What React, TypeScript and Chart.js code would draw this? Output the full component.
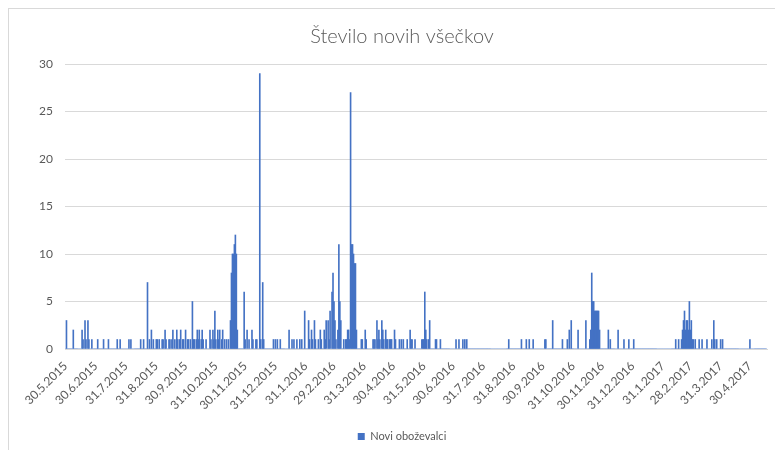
import React, { useEffect, useRef } from "react";
import { Chart, registerables } from "chart.js";

Chart.register(...registerables);

const TITLE = "Število novih všečkov";
const SERIES_NAME = "Novi oboževalci";

// Daily values, one array per month (first day of each array given in MONTHS)
const may2015 = [0, 3];
const jun2015 = [0,0,0,0,0,0,2,0,0,0, 0,0,0,0,0,2,1,0,3,1, 0,3,1,0,0,1,0,0,0,0];
const jul2015 = [0,1,0,0,0,0,0,1,0,0, 0,0,1,0,0,0,0,0,0,0, 0,1,0,0,1,0,0,0,0,0, 0];
const aug2015 = [0,0,1,0,1,0,0,0,0,0, 0,0,0,0,1,0,0,1,0,0, 0,7,0,1,0,2,0,1,0,0, 1];
const sep2015 = [1,0,1,0,0,1,1,0,2,1, 0,0,1,1,0,1,2,0,1,0, 2,1,0,1,2,0,1,1,0,2];
const oct2015 = [0,1,1,0,1,0,5,1,1,0, 1,2,1,2,0,1,2,1,0,0, 1,0,0,0,2,1,0,2,1,4, 1];
const nov2015 = [0,2,1,2,0,1,2,0,1,0, 1,0,1,0,3,8,10,10,11,12, 10,2,0,0,0,0,0,0,6,1];
const dec2015 = [0,2,0,1,0,0,2,1,0,0, 1,1,0,0,29,1,0,7,1,0, 0,0,0,0,0,0,0,0,1,0, 1];
const jan2016 = [0,1,0,0,1,0,0,0,0,0, 0,0,0,2,0,0,1,0,1,0, 0,1,0,0,1,0,1,0,0,4, 0];
const feb2016 = [0,0,3,1,0,2,1,0,3,1, 0,0,1,0,2,1,0,0,2,1, 3,0,3,1,4,0,6,8,5];
const mar2016 = [3,1,0,2,11,5,3,0,0,1, 0,1,1,2,2,1,27,11,11,10, 9,9,2,0,0,0,0,1,1,0, 0];
const apr2016 = [2,1,0,0,0,0,0,0,1,1, 1,0,3,1,2,1,0,3,2,1, 0,2,1,1,0,1,1,1,0,0];
const may2016 = [2,1,0,0,0,1,0,1,0,1, 0,0,0,1,0,0,2,1,1,0, 0,1,0,0,0,0,0,0,1,1, 1];
const jun2016 = [6,2,1,0,1,3,0,0,0,0, 0,1,1,0,0,0,1,0,0,0, 0,0,0,0,0,0,0,0,0,0];
const jul2016 = [0,0,1,0,0,1,0,0,0,1, 0,1,0,1,0,0,0,0,0,0, 0,0,0,0,0,0,0,0,0,0, 0];
const aug2016 = [0,0,0,0,0,0,0,0,0,0, 0,0,0,0,0,0,0,0,0,0, 0,0,0,0,0,1,0,0,0,0, 0];
const sep2016 = [0,0,0,0,0,0,0,1,0,0, 0,0,1,0,0,1,0,0,0,1, 0,0,0,0,0,0,0,0,0,0];
const oct2016 = [0,1,1,0,0,0,0,0,0,3, 0,0,0,0,0,0,0,0,0,1, 0,0,0,0,1,0,2,0,3,0, 0];
const nov2016 = [0,0,0,0,2,0,0,0,0,0, 0,0,3,0,0,0,1,2,8,5, 5,4,4,4,4,4,2,0,0,0];
const dec2016 = [0,0,0,0,0,2,0,1,0,0, 0,0,0,0,0,2,0,0,0,0, 0,1,0,0,0,0,1,0,0,0, 0];
const jan2017 = [1,0,0,0,0,0,0,0,0,0, 0,0,0,0,0,0,0,0,0,0, 0,0,0,0,0,0,0,0,0,0, 0];
const feb2017 = [0,0,0,0,0,0,0,0,0,0, 0,0,1,0,0,1,0,0,1,2, 3,4,2,3,3,2,5,2];
const mar2017 = [3,1,1,0,1,0,0,0,1,0, 0,1,0,0,0,0,1,0,0,0, 0,1,0,3,1,0,1,0,0,0, 1];
const apr2017 = [0,1,0,0,0,0,0,0,0,0, 0,0,0,0,0,0,0,0,0,0, 0,0,0,0,0,0,0,0,0,1];
const may2017 = [0,0,0,0,0,0,0,0,0,0, 0,0,0,0,0,0,0];

const MONTHS: { y: number; m: number; from: number; v: number[] }[] = [
  { y: 2015, m: 5, from: 30, v: may2015 },
  { y: 2015, m: 6, from: 1, v: jun2015 },
  { y: 2015, m: 7, from: 1, v: jul2015 },
  { y: 2015, m: 8, from: 1, v: aug2015 },
  { y: 2015, m: 9, from: 1, v: sep2015 },
  { y: 2015, m: 10, from: 1, v: oct2015 },
  { y: 2015, m: 11, from: 1, v: nov2015 },
  { y: 2015, m: 12, from: 1, v: dec2015 },
  { y: 2016, m: 1, from: 1, v: jan2016 },
  { y: 2016, m: 2, from: 1, v: feb2016 },
  { y: 2016, m: 3, from: 1, v: mar2016 },
  { y: 2016, m: 4, from: 1, v: apr2016 },
  { y: 2016, m: 5, from: 1, v: may2016 },
  { y: 2016, m: 6, from: 1, v: jun2016 },
  { y: 2016, m: 7, from: 1, v: jul2016 },
  { y: 2016, m: 8, from: 1, v: aug2016 },
  { y: 2016, m: 9, from: 1, v: sep2016 },
  { y: 2016, m: 10, from: 1, v: oct2016 },
  { y: 2016, m: 11, from: 1, v: nov2016 },
  { y: 2016, m: 12, from: 1, v: dec2016 },
  { y: 2017, m: 1, from: 1, v: jan2017 },
  { y: 2017, m: 2, from: 1, v: feb2017 },
  { y: 2017, m: 3, from: 1, v: mar2017 },
  { y: 2017, m: 4, from: 1, v: apr2017 },
  { y: 2017, m: 5, from: 1, v: may2017 },
];

const TICK_LABELS = [
  "30.5.2015", "30.6.2015", "31.7.2015", "31.8.2015", "30.9.2015", "31.10.2015",
  "30.11.2015", "31.12.2015", "31.1.2016", "29.2.2016", "31.3.2016", "30.4.2016",
  "31.5.2016", "30.6.2016", "31.7.2016", "31.8.2016", "30.9.2016", "31.10.2016",
  "30.11.2016", "31.12.2016", "31.1.2017", "28.2.2017", "31.3.2017", "30.4.2017",
];

const Y_MIN = 0;
const Y_MAX = 30;
const Y_STEP = 5;

const FONT = "Lato, 'Open Sans', sans-serif";
const TEXT = "#595959";
const GRID = "#d9d9d9";
const BAR = "#4472C4";

export default function App() {
  const ref = useRef<HTMLCanvasElement>(null);

  useEffect(() => {
    const labels: string[] = [];
    const values: number[] = [];
    MONTHS.forEach(({ y, m, from, v }) => {
      v.forEach((val, i) => {
        labels.push(`${from + i}.${m}.${y}`);
        values.push(val);
      });
    });
    const tickSet = new Set(TICK_LABELS);

    const chart = new Chart(ref.current!, {
      type: "bar",
      data: {
        labels,
        datasets: [
          {
            label: SERIES_NAME,
            data: values,
            backgroundColor: BAR,
            borderWidth: 0,
            barPercentage: 1,
            categoryPercentage: 1,
          },
        ],
      },
      options: {
        responsive: false,
        animation: false,
        devicePixelRatio: 1,
        layout: { padding: 0 },
        plugins: {
          title: {
            display: true,
            text: TITLE,
            color: TEXT,
            font: { family: FONT, size: 20, weight: "300" as any },
            padding: { top: 16, bottom: 15 },
          },
          legend: {
            position: "bottom",
            labels: {
              boxWidth: 7,
              boxHeight: 7,
              color: TEXT,
              font: { family: FONT, size: 11 },
              padding: 10,
            },
          },
          tooltip: { enabled: false },
        },
        scales: {
          x: {
            grid: { display: false },
            border: { color: GRID },
            afterFit: (s: any) => {
              s.height = 72;
            },
            ticks: {
              autoSkip: false,
              maxRotation: 45,
              minRotation: 45,
              color: TEXT,
              padding: 2,
              font: { family: FONT, size: 12 },
              callback: function (this: any, value: any) {
                const l = this.getLabelForValue(value);
                return tickSet.has(l) ? l : null;
              },
            },
          },
          y: {
            min: Y_MIN,
            max: Y_MAX,
            afterFit: (s: any) => {
              s.width = 56;
            },
            border: { display: false },
            grid: { color: GRID, drawTicks: false },
            ticks: {
              stepSize: Y_STEP,
              color: TEXT,
              padding: 12,
              font: { family: FONT, size: 12 },
            },
          },
          yRight: {
            type: "linear",
            position: "right",
            display: true,
            grid: { display: false, drawTicks: false },
            border: { display: false },
            ticks: { display: false },
            afterFit: (s: any) => {
              s.width = 28;
            },
          },
        },
      },
    });
    return () => chart.destroy();
  }, []);

  return (
    <div
      style={{
        width: 775,
        height: 442,
        borderTop: "1px solid #d9d9d9",
        borderLeft: "1px solid #d9d9d9",
        overflow: "hidden",
        background: "#fff",
      }}
    >
      <canvas ref={ref} width={786} height={443} style={{ display: "block" }} />
    </div>
  );
}
